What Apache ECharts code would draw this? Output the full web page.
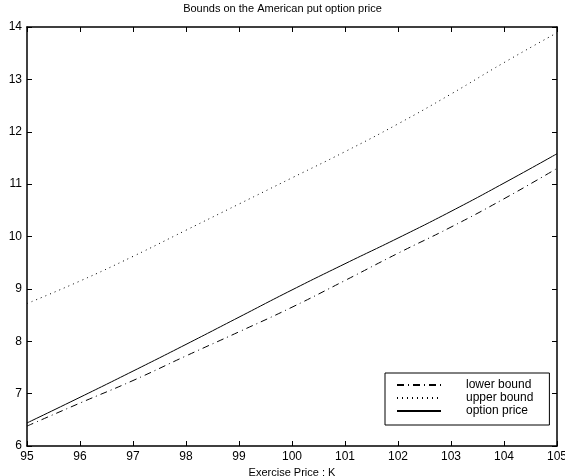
<!DOCTYPE html>
<html>
<head>
<meta charset="utf-8">
<script src="https://cdn.jsdelivr.net/npm/echarts@6/dist/echarts.min.js"></script>
<style>
  html, body { margin: 0; padding: 0; background: #fff; }
  #plot { width: 565px; height: 476px; }
</style>
</head>
<body>
<div id="plot"></div>
<script>
// strike prices on the x axis
const strikes = [95, 96, 97, 98, 99, 100, 101, 102, 103, 104, 105];
// values
const lowerBound = [6.38, 6.82, 7.25, 7.72, 8.18, 8.65, 9.16, 9.68, 10.18, 10.72, 11.3];
const upperBound = [8.72, 9.15, 9.62, 10.12, 10.62, 11.12, 11.62, 12.15, 12.72, 13.32, 13.89];
const optionPrice = [6.44, 6.93, 7.43, 7.94, 8.46, 8.98, 9.48, 9.97, 10.48, 11.02, 11.58];

const pair = (vals) => strikes.map((k, i) => [k, vals[i]]);

const font = "Liberation Sans, Arial, Helvetica, sans-serif";
const chart = echarts.init(document.getElementById("plot"), null, { renderer: "canvas" });

const boxAxis = {
  axisLine: { show: true, onZero: false, lineStyle: { color: "#000", width: 1.5 } },
  axisTick: { show: true, inside: true, length: 5, lineStyle: { color: "#000" } },
  splitLine: { show: false },
};

const option = {
  animation: false,
  backgroundColor: "#fff",
  title: {
    text: "Bounds on the American put option price",
    left: "center",
    top: -2,
    textStyle: { fontFamily: font, fontSize: 11, fontWeight: "normal", color: "#000" },
  },
  grid: { left: 27, right: 8, top: 27, bottom: 30, outerBoundsMode: "none" },
  legend: {
    orient: "vertical",
    left: 385,
    top: 373,
    itemWidth: 44,
    itemHeight: 10,
    itemGap: 1,
    padding: [6, 16, 8, 11],
    borderColor: "#000",
    borderWidth: 1,
    backgroundColor: "#fff",
    itemStyle: { opacity: 0 },
    textStyle: { fontFamily: font, fontSize: 12, color: "#000", padding: [0, 0, 0, 20] },
    data: ["lower bound", "upper bound", "option price"],
  },
  xAxis: [
    {
      ...boxAxis,
      type: "value",
      min: 95,
      max: 105,
      interval: 1,
      name: "Exercise Price : K",
      nameLocation: "middle",
      nameGap: 17,
      nameTextStyle: { fontFamily: font, fontSize: 11, color: "#000" },
      axisLabel: { fontFamily: font, fontSize: 12, color: "#000", margin: 5 },
    },
    {
      ...boxAxis,
      type: "value",
      position: "top",
      min: 95,
      max: 105,
      interval: 1,
      axisLabel: { show: false },
    },
  ],
  yAxis: [
    {
      ...boxAxis,
      type: "value",
      min: 6,
      max: 14,
      interval: 1,
      axisLabel: { fontFamily: font, fontSize: 12, color: "#000", margin: 5 },
    },
    {
      ...boxAxis,
      type: "value",
      position: "right",
      min: 6,
      max: 14,
      interval: 1,
      axisLabel: { show: false },
    },
  ],
  series: [
    {
      name: "lower bound",
      type: "line",
      data: pair(lowerBound),
      smooth: true,
      symbol: "none",
      showSymbol: false,
      lineStyle: { color: "#000", width: 1, type: [7, 4, 1, 4] },
      itemStyle: { color: "#000" },
    },
    {
      name: "upper bound",
      type: "line",
      data: pair(upperBound),
      smooth: true,
      symbol: "none",
      showSymbol: false,
      lineStyle: { color: "#000", width: 1, type: [1, 4] },
      itemStyle: { color: "#000" },
    },
    {
      name: "option price",
      type: "line",
      data: pair(optionPrice),
      smooth: true,
      symbol: "none",
      showSymbol: false,
      lineStyle: { color: "#000", width: 1 },
      itemStyle: { color: "#000" },
    },
  ],
};

chart.setOption(option);
</script>
</body>
</html>
